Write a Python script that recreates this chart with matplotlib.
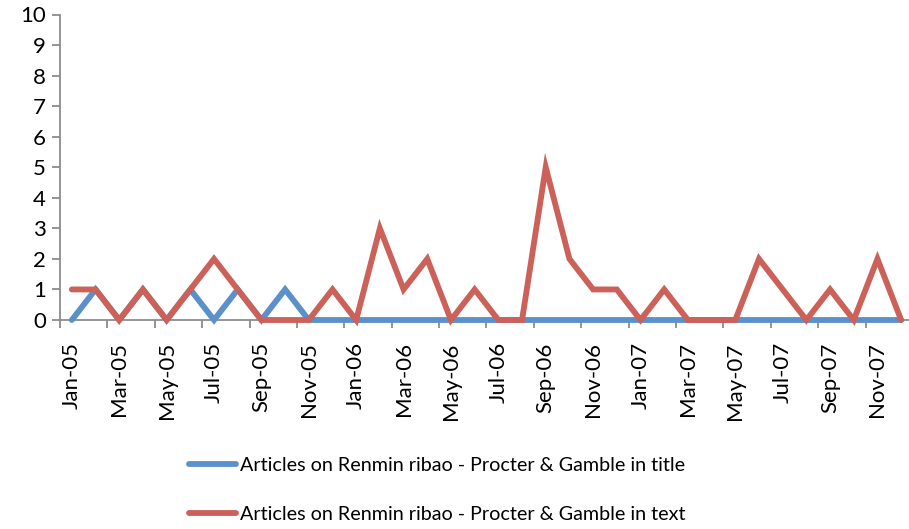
import matplotlib
matplotlib.use("Agg")
import matplotlib.pyplot as plt
import numpy as np

months = ["Jan-05","Feb-05","Mar-05","Apr-05","May-05","Jun-05","Jul-05","Aug-05","Sep-05","Oct-05","Nov-05","Dec-05",
          "Jan-06","Feb-06","Mar-06","Apr-06","May-06","Jun-06","Jul-06","Aug-06","Sep-06","Oct-06","Nov-06","Dec-06",
          "Jan-07","Feb-07","Mar-07","Apr-07","May-07","Jun-07","Jul-07","Aug-07","Sep-07","Oct-07","Nov-07","Dec-07"]
in_title = [0,1,0,1,0,1,0,1,0,1,0,0,
            0,0,0,0,0,0,0,0,0,0,0,0,
            0,0,0,0,0,0,0,0,0,0,0,0]
in_text = [1,1,0,1,0,1,2,1,0,0,0,1,
           0,3,1,2,0,1,0,0,5,2,1,1,
           0,1,0,0,0,2,1,0,1,0,2,0]
series_labels = ["Articles on Renmin ribao - Procter & Gamble in title",
                 "Articles on Renmin ribao - Procter & Gamble in text"]
yticks = list(range(0, 11))

plt.rcParams['font.family'] = ['Lato', 'DejaVu Sans']

W, H = 909, 529
fig = plt.figure(figsize=(W/100, H/100), dpi=100)
ax = fig.add_axes([60/W, 1-320/H, 853/W, 305.5/H])

x = np.arange(len(months))
blue = "#5B90CB"
red = "#CC6159"
ax.plot(x, in_title, color=blue, lw=4.2, solid_capstyle='round', solid_joinstyle='miter', label=series_labels[0], clip_on=False, zorder=3)
ax.plot(x, in_text, color=red, lw=4.2, solid_capstyle='round', solid_joinstyle='miter', label=series_labels[1], clip_on=False, zorder=4)

ax.set_xlim(-0.5, len(months)-0.5)
ax.set_ylim(0, 10)

for s in ['top', 'right']:
    ax.spines[s].set_visible(False)
for s in ['left', 'bottom']:
    ax.spines[s].set_color('#8C8C8C')
    ax.spines[s].set_linewidth(1.3)

ax.set_yticks(yticks)
ax.set_yticklabels([str(v) for v in yticks])
ax.tick_params(axis='y', direction='out', length=6, width=1.3, color='#8C8C8C', labelsize=16, pad=4)

ax.set_xticks(x[::2])
ax.set_xticklabels(months[::2], rotation=90, ha='center', va='top')
ax.tick_params(axis='x', which='major', length=0, labelsize=16, pad=16)
ax.set_xticks(np.arange(-0.5, len(months), 2), minor=True)
ax.tick_params(axis='x', which='minor', direction='out', length=6, width=1.3, color='#8C8C8C')

leg = fig.legend(loc='center', bbox_to_anchor=(437/W, 1-490/H), ncol=1, frameon=False,
                 fontsize=14.2, handlelength=2.4, handletextpad=0.2, labelspacing=1.65)
for l in leg.get_lines():
    l.set_linewidth(4.2)

fig.savefig("out.png", dpi=100)
